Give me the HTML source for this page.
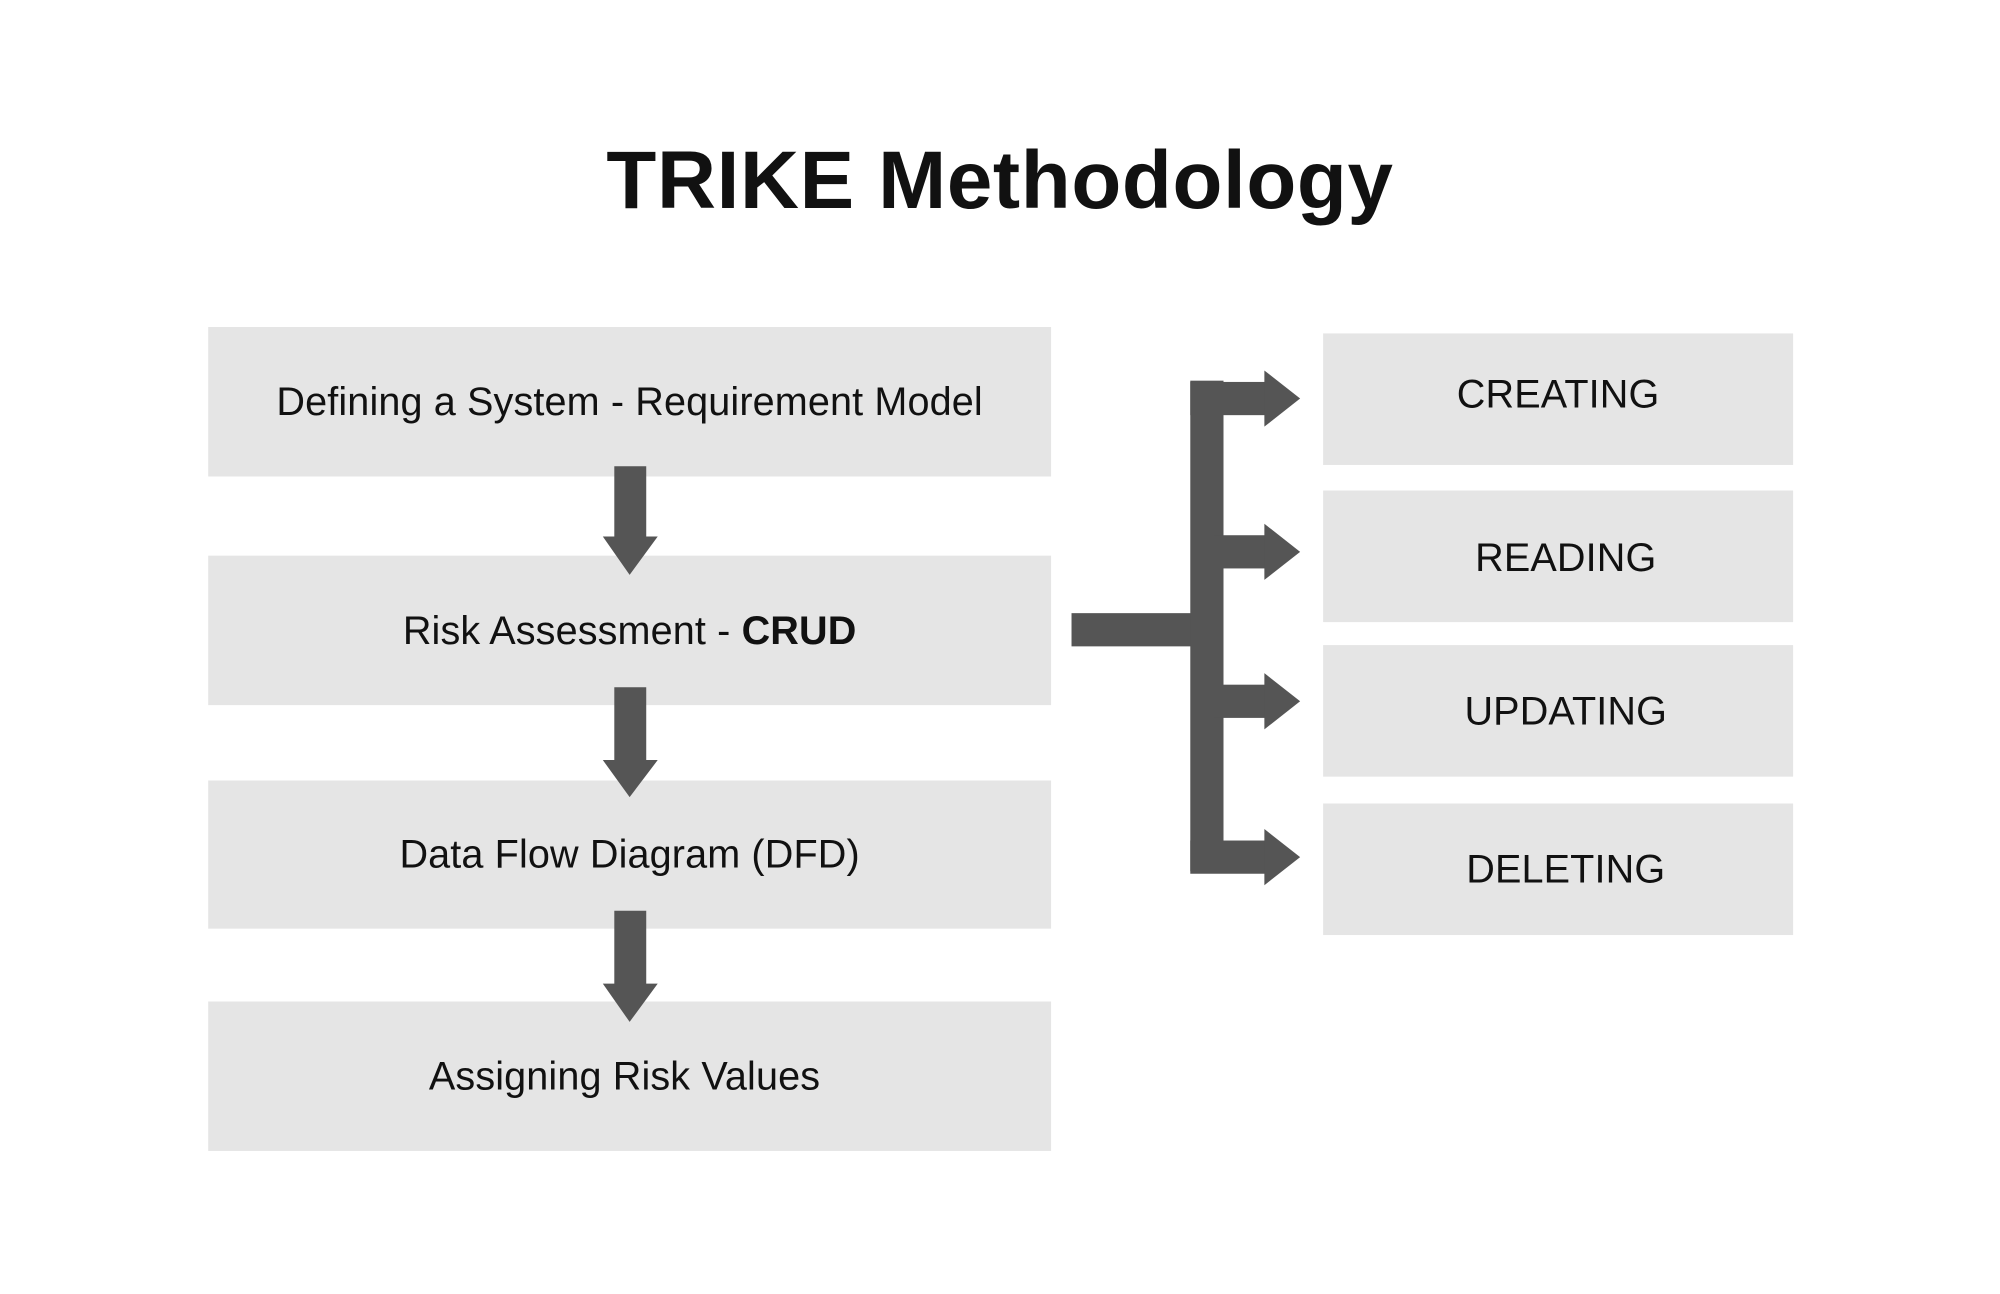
<!DOCTYPE html>
<html><head><meta charset="utf-8"><style>
html,body{margin:0;padding:0;background:#fff;width:2000px;height:1294px;overflow:hidden}
svg{display:block}
text{font-family:"Liberation Sans",sans-serif;fill:#111}
</style></head><body>
<svg width="2000" height="1294" viewBox="0 0 1566 1013" preserveAspectRatio="none" xmlns="http://www.w3.org/2000/svg">
<rect width="1566" height="1013" fill="#fff"/>
<text x="783" y="163" font-size="64" font-weight="bold" text-anchor="middle" letter-spacing="0.5">TRIKE Methodology</text>
<g fill="#e5e5e5">
<rect x="163" y="256" width="660" height="117"/>
<rect x="163" y="435" width="660" height="117"/>
<rect x="163" y="611" width="660" height="116"/>
<rect x="163" y="784" width="660" height="117"/>
<rect x="1036" y="261" width="368" height="103"/>
<rect x="1036" y="384" width="368" height="103"/>
<rect x="1036" y="505" width="368" height="103"/>
<rect x="1036" y="629" width="368" height="103"/>
</g>
<g font-size="31" text-anchor="middle" letter-spacing="0.1">
<text x="493" y="325">Defining a System - Requirement Model</text>
<text x="493" y="504">Risk Assessment - <tspan font-weight="bold">CRUD</tspan></text>
<text x="493" y="679">Data Flow Diagram (DFD)</text>
<text x="489" y="853">Assigning Risk Values</text>
<text x="1220" y="319">CREATING</text>
<text x="1226" y="447">READING</text>
<text x="1226" y="567">UPDATING</text>
<text x="1226" y="691">DELETING</text>
</g>
<g fill="#555">
<polygon points="481,365 506,365 506,420 515,420 493,450 472,420 481,420"/>
<polygon points="481,538 506,538 506,595 515,595 493,624 472,595 481,595"/>
<polygon points="481,713 506,713 506,770 515,770 493,800 472,770 481,770"/>
<rect x="839" y="480" width="119" height="26"/>
<rect x="932" y="298" width="26" height="384"/>
<rect x="932" y="299" width="60" height="26"/><polygon points="990,290 1018,312 990,334"/>
<rect x="950" y="419" width="42" height="26"/><polygon points="990,410 1018,432 990,454"/>
<rect x="950" y="536" width="42" height="26"/><polygon points="990,527 1018,549 990,571"/>
<rect x="932" y="658" width="60" height="26"/><polygon points="990,649 1018,671 990,693"/>
</g>
</svg>
</body></html>
